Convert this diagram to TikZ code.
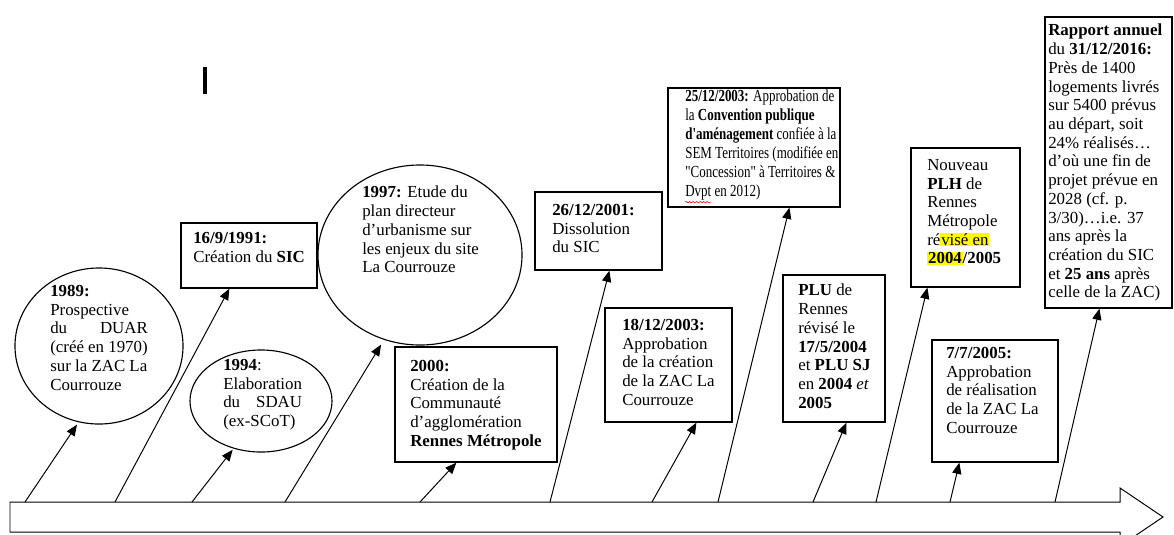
\documentclass[tikz,border=0pt]{standalone}
\usepackage{fontspec}
\setmainfont{Liberation Serif}
\newfontfamily\narrowfont[FakeStretch=0.77]{Liberation Serif}
\usetikzlibrary{arrows.meta,shapes.geometric,fit,decorations.pathmorphing}

\definecolor{hlyellow}{RGB}{255,250,0}
\newcommand{\hl}[1]{{\setlength{\fboxsep}{0.6pt}\colorbox{hlyellow}{#1}}}

\begin{document}
\begin{tikzpicture}[x=0.025cm,y=-0.025cm,
  evbox/.style={draw,line width=0.9pt,inner sep=0pt},
  evoval/.style={draw,ellipse,line width=0.8pt,inner sep=0pt},
  evtext/.style={anchor=north west,align=left,inner sep=0pt,
                 font=\fontsize{12}{13.3}\selectfont},
  evarr/.style={-{Triangle[length=8pt,width=6.5pt]},line width=0.7pt},
]
  \useasboundingbox (0,0) rectangle (1174,534);
  \clip (0,0) rectangle (1174,534);

  % timeline
  \draw[line width=0.7pt] (10,502) -- (1120,502) -- (1120,488) -- (1163,517)
    -- (1120,546) -- (1120,532) -- (10,532) -- cycle;
  \foreach \x [count=\i] in {25,115,192,285,420,550,652,718,813,876,950,1055}
    \coordinate (f\i) at (\x,502);

  % events
  \node[evoval,minimum width=4.2cm,minimum height=3.9cm] (e1989) at (99,346) {};
  \node[evbox,fit={(181,223) (317,288)}] (b1991) {};
  \node[evoval,minimum width=3.55cm,minimum height=2.55cm] (e1994) at (261,401) {};
  \node[evoval,minimum width=5.1cm,minimum height=4.5cm] (e1997) at (420,255) {};
  \node[evbox,fit={(395,347) (557,462)}] (b2000) {};
  \node[evbox,fit={(535,192) (662,270)}] (b2001) {};
  \node[evbox,fit={(668,88) (840,207)}] (b2503) {};
  \node[evbox,fit={(605,308) (732,422)}] (b1803) {};
  \node[evbox,fit={(783,275) (885,422)}] (bplu) {};
  \node[evbox,fit={(911,148) (1020,287)}] (bplh) {};
  \node[evbox,fit={(932,340) (1058,462)}] (b0705) {};
  \node[evbox,fit={(1045,17) (1172,308)}] (brap) {};

  \node[evtext] (t1989) at (50,285) {\textbf{1989:}\\Prospective\\du\hspace{1.95em}DUAR\\(créé en 1970)\\sur la ZAC La\\Courrouze};
  \node[evtext] (t1991) at (193,232) {\textbf{16/9/1991:}\\Création du \textbf{SIC}};
  \node[evtext] (t1994) at (223,359) {\textbf{1994}:\\Elaboration\\du\hspace{0.95em}SDAU\\(ex-SCoT)};
  \node[evtext] (t1997) at (362,186) {\textbf{1997:} Etude du\\plan directeur\\d'urbanisme sur\\les enjeux du site\\La Courrouze};
  \node[evtext] (t2000) at (410,360) {\textbf{2000:}\\Création de la\\Communauté\\d'agglomération\\\textbf{Rennes Métropole}};
  \node[evtext] (t2001) at (552,204) {\textbf{26/12/2001:}\\Dissolution\\du SIC};
  \node[evtext,font=\narrowfont\fontsize{12}{13.5}\selectfont] (t2503) at (685,90)
    {\textbf{25/12/2003:} Approbation de\\la \textbf{Convention publique}\\\textbf{d'aménagement} confiée à la\\SEM Territoires (modifiée en\\"Concession" à Territoires \&\\Dvpt en 2012)};
  \node[evtext] (t1803) at (622,319) {\textbf{18/12/2003:}\\Approbation\\de la création\\de la ZAC La\\Courrouze};
  \node[evtext] (tplu) at (798,284) {\textbf{PLU} de\\Rennes\\révisé le\\\textbf{17/5/2004}\\et \textbf{PLU SJ}\\en \textbf{2004} \textit{et}\\\textbf{2005}};
  \node[evtext] (tplh) at (927,159) {Nouveau\\\textbf{PLH} de\\Rennes\\Métropole\\ré\hl{visé en}\\\hl{\textbf{2004}}\textbf{/2005}};
  \node[evtext] (t0705) at (946,347) {\textbf{7/7/2005:}\\Approbation\\de réalisation\\de la ZAC La\\Courrouze};
  \node[evtext] (trap) at (1048,24) {\textbf{Rapport annuel}\\du \textbf{31/12/2016:}\\Près de 1400\\logements livrés\\sur 5400 prévus\\au départ, soit\\24\% réalisés…\\d'où une fin de\\projet prévue en\\2028 (cf. p.\\3/30)…i.e. 37\\ans après la\\création du SIC\\et \textbf{25 ans} après\\celle de la ZAC)};

  % spell-check mark under "Dvpt"
  \draw[red,line width=0.4pt,decorate,
        decoration={snake,amplitude=0.5pt,segment length=2.5pt}]
    ([yshift=-1pt]t2503.south west) -- ++(26,0);

  % cursor mark
  \draw[line width=2.2pt] (205,67) -- (205,94);

  % connectors
  \draw[evarr,shorten >=2pt] (f1) -- (e1989.255);
  \draw[evarr] (f2) -- ([xshift=1.225cm]b1991.south west);
  \draw[evarr,shorten >=1pt] (f3) -- (e1994.240);
  \draw[evarr,shorten >=4pt] (f4) -- (e1997.247);
  \draw[evarr] (f5) -- ([xshift=1.55cm]b2000.south west);
  \draw[evarr] (f6) -- ([xshift=1.875cm]b2001.south west);
  \draw[evarr] (f7) -- ([xshift=2.3cm]b1803.south west);
  \draw[evarr] (f8) -- ([xshift=3.05cm]b2503.south west);
  \draw[evarr] (f9) -- ([xshift=1.6cm]bplu.south west);
  \draw[evarr] (f10) -- ([xshift=0.425cm]bplh.south west);
  \draw[evarr] (f11) -- ([xshift=0.7cm]b0705.south west);
  \draw[evarr] (f12) -- ([xshift=1.375cm]brap.south west);
\end{tikzpicture}
\end{document}
